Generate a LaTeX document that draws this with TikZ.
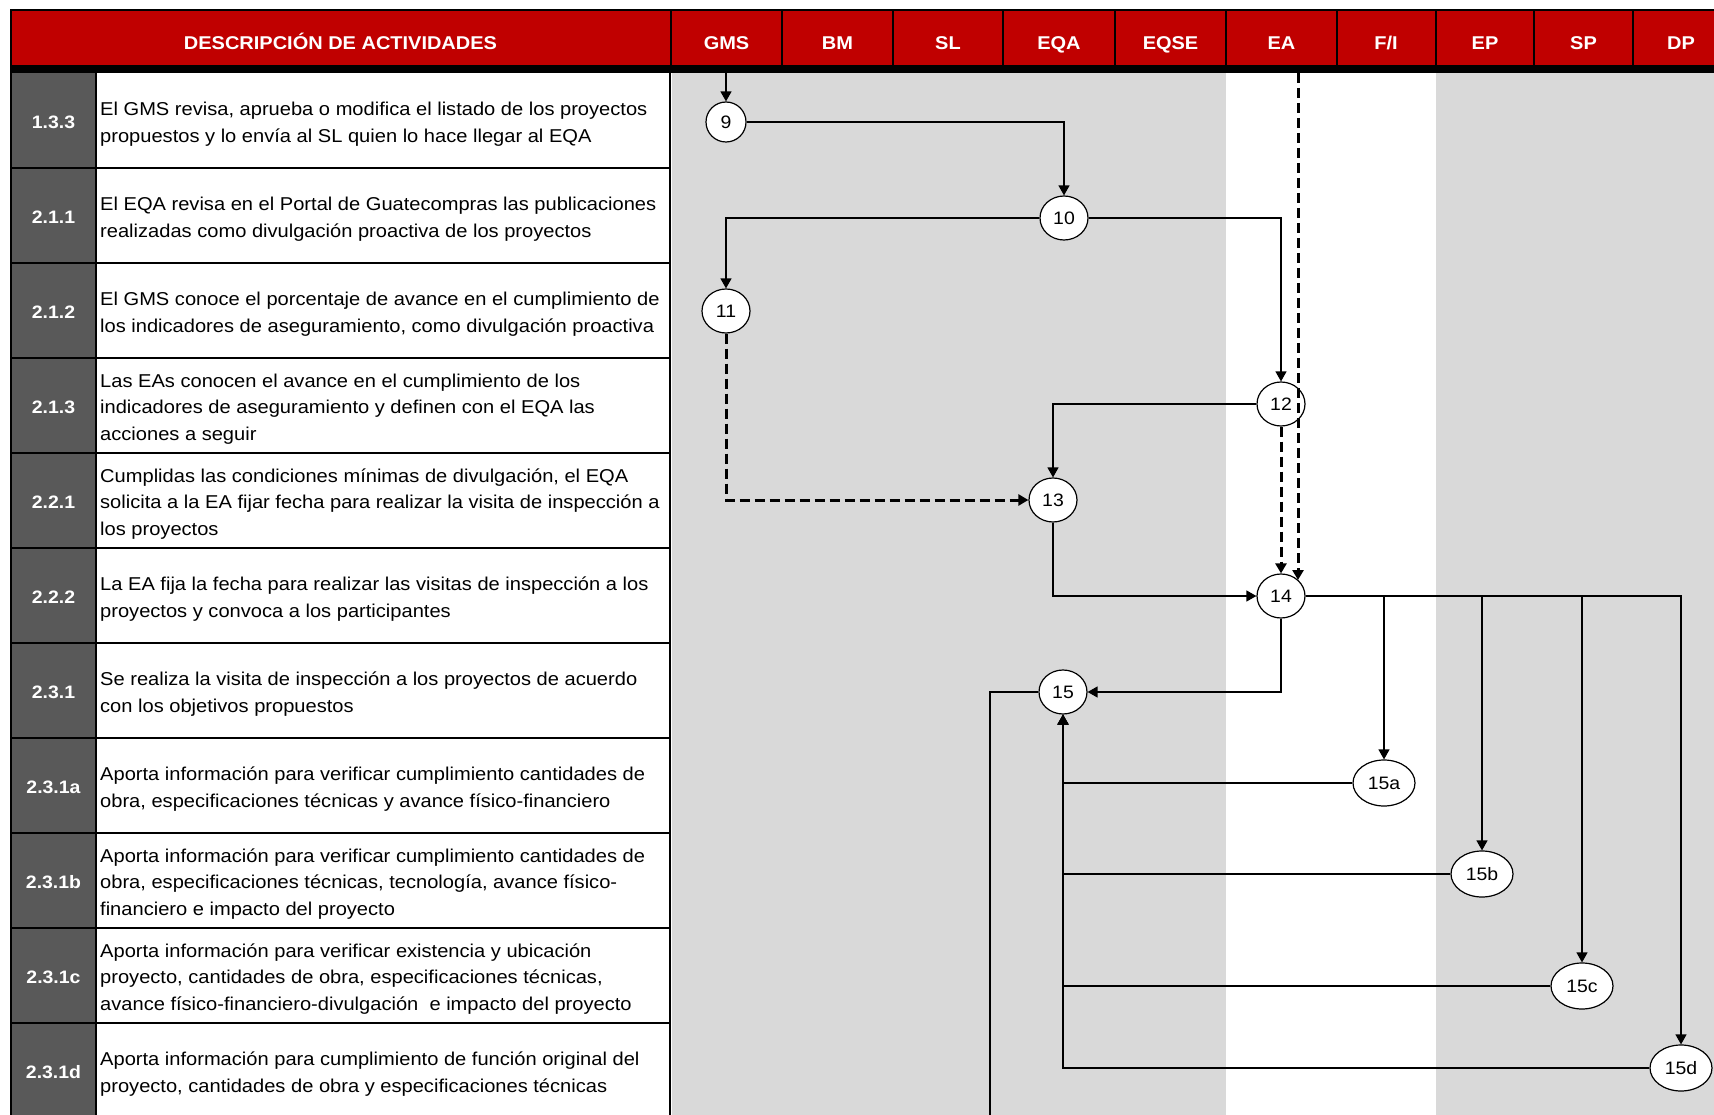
\documentclass[tikz,border=0pt]{standalone}
\usepackage{fontspec}
\setmainfont{Liberation Sans}[FakeStretch=1.08]
\usetikzlibrary{shapes.geometric,arrows.meta}

\definecolor{rojo}{HTML}{C00000}
\definecolor{grisos}{HTML}{595959}
\definecolor{grisc}{HTML}{D9D9D9}

\begin{document}
\begin{tikzpicture}[
				x=1pt, y=-1pt,
				main/.style = {draw, ellipse, fill=white, line width=1.2pt, inner sep=0pt, minimum width=48pt, minimum height=44pt, font=\fontsize{18}{20}\selectfont},
				sub/.style = {main, minimum width=62pt, minimum height=46pt},
				num/.style = {text=white, yshift=-2pt, font=\bfseries\fontsize{18}{20}\selectfont},
				desc/.style = {anchor=west, align=left, inner sep=0pt, yshift=-3.5pt, font=\fontsize{18.6}{26.7}\selectfont},
				head/.style = {anchor=base, text=white, font=\bfseries\fontsize{18.5}{20}\selectfont},
				flow/.style = {line width=1.3pt, -{Triangle[length=10pt,width=11pt]}},
				dflow/.style = {flow, line width=3pt, dash pattern=on 10pt off 5pt}
			]
			\useasboundingbox (0,0) rectangle (1714,1115);
			% fondo de columnas
			\fill[grisc] (672,73) rectangle (1226,1115);
			\fill[grisc] (1436,73) rectangle (1714,1115);
			\fill[grisos] (11,73) rectangle (96,1115);
			\fill[white] (96,73) rectangle (670,1115);
			% encabezado
			\fill[rojo] (11,11) rectangle (1714,65);
			\fill (10,65) rectangle (1714,73);
			\draw[line width=1.5pt] (10,10) -- (1714,10);
			\draw[line width=2pt] (11,10) -- (11,1115);
			\foreach \x in {671,782,893,1003,1115,1226,1337,1436,1534,1633}
				\draw[line width=1.2pt] (\x,11) -- (\x,65);
			\node[head] (hdesc) at (340.5,50) {DESCRIPCIÓN DE ACTIVIDADES};
			\node[head] (hgms) at (726.5,50) {GMS};
			\node[head] (hbm) at (837.5,50) {BM};
			\node[head] (hsl) at (948,50) {SL};
			\node[head] (heqa) at (1059,50) {EQA};
			\node[head] (heqse) at (1170.5,50) {EQSE};
			\node[head] (hea) at (1281.5,50) {EA};
			\node[head] (hfi) at (1386,50) {F/I};
			\node[head] (hep) at (1485,50) {EP};
			\node[head] (hsp) at (1583.5,50) {SP};
			\node[head] (hdp) at (1681,50) {DP};
			% filas
			\foreach \y in {168,263,358,453,548,643,738,833,928,1023}
				\draw[line width=1.5pt] (11,\y) -- (670,\y);
			\draw[line width=1.2pt] (96,73) -- (96,1115);
			\draw[line width=2.5pt] (670,73) -- (670,1115);
			\node[num] (r1) at (53.5,120.5) {1.3.3};
			\node[num] (r2) at (53.5,215.5) {2.1.1};
			\node[num] (r3) at (53.5,310.5) {2.1.2};
			\node[num] (r4) at (53.5,405.5) {2.1.3};
			\node[num] (r5) at (53.5,500.5) {2.2.1};
			\node[num] (r6) at (53.5,595.5) {2.2.2};
			\node[num] (r7) at (53.5,690.5) {2.3.1};
			\node[num] (r8) at (53.5,785.5) {2.3.1a};
			\node[num] (r9) at (53.5,880.5) {2.3.1b};
			\node[num] (r10) at (53.5,975.5) {2.3.1c};
			\node[num] (r11) at (53.5,1070.5) {2.3.1d};
			\node[desc] (d1) at (100,120.5) {El GMS revisa, aprueba o modifica el listado de los proyectos\\propuestos y lo envía al SL quien lo hace llegar al EQA};
			\node[desc] (d2) at (100,215.5) {El EQA revisa en el Portal de Guatecompras las publicaciones\\realizadas como divulgación proactiva de los proyectos};
			\node[desc] (d3) at (100,310.5) {El GMS conoce el porcentaje de avance en el cumplimiento de\\los indicadores de aseguramiento, como divulgación proactiva};
			\node[desc] (d4) at (100,405.5) {Las EAs conocen el avance en el cumplimiento de los\\indicadores de aseguramiento y definen con el EQA las\\acciones a seguir};
			\node[desc] (d5) at (100,500.5) {Cumplidas las condiciones mínimas de divulgación, el EQA\\solicita a la EA fijar fecha para realizar la visita de inspección a\\los proyectos};
			\node[desc] (d6) at (100,595.5) {La EA fija la fecha para realizar las visitas de inspección a los\\proyectos y convoca a los participantes};
			\node[desc] (d7) at (100,690.5) {Se realiza la visita de inspección a los proyectos de acuerdo\\con los objetivos propuestos};
			\node[desc] (d8) at (100,785.5) {Aporta información para verificar cumplimiento cantidades de\\obra, especificaciones técnicas y avance físico-financiero};
			\node[desc] (d9) at (100,880.5) {Aporta información para verificar cumplimiento cantidades de\\obra, especificaciones técnicas, tecnología, avance físico-\\financiero e impacto del proyecto};
			\node[desc] (d10) at (100,975.5) {Aporta información para verificar existencia y ubicación\\proyecto, cantidades de obra, especificaciones técnicas,\\avance físico-financiero-divulgación\ \ e impacto del proyecto};
			\node[desc] (d11) at (100,1070.5) {Aporta información para cumplimiento de función original del\\proyecto, cantidades de obra y especificaciones técnicas};
			% nodos del flujo
			\node[main, minimum width=40pt, minimum height=40pt] (n9) at (726,122) {9};
			\node[main] (n10) at (1064,218) {10};
			\node[main] (n11) at (726,311) {11};
			\node[main] (n12) at (1281,404) {12};
			\node[main] (n13) at (1053,500) {13};
			\node[main] (n14) at (1281,596) {14};
			\node[main] (n15) at (1063,692) {15};
			\node[sub] (n15a) at (1384,783) {15a};
			\node[sub] (n15b) at (1482,874) {15b};
			\node[sub] (n15c) at (1582,986) {15c};
			\node[sub] (n15d) at (1681,1068) {15d};
			\coordinate (top9) at (726,73);
			\coordinate (topea) at (1298,73);
			\coordinate (fin) at (990,1115);
			% conectores
			\draw[flow] (top9) -- (n9);
			\draw[flow] (n9) -| (n10);
			\draw[flow] (n10) -| (n11);
			\draw[flow] (n10) -| (n12);
			\draw[flow] (n12) -| (n13);
			\draw[dflow] (n11) |- (n13);
			\draw[dflow] (n12) -- (n14);
			\draw[dflow] (topea) -- (topea |- n14.north east);
			\draw[flow] (n13) |- (n14);
			\draw[flow] (n14) |- (n15);
			\draw[flow] (n14) -| (n15a);
			\draw[flow] (n14) -| (n15b);
			\draw[flow] (n14) -| (n15c);
			\draw[flow] (n14) -| (n15d);
			\draw[flow] (n15a) -| (n15);
			\draw[flow] (n15b) -| (n15);
			\draw[flow] (n15c) -| (n15);
			\draw[flow] (n15d) -| (n15);
			\draw[line width=1.3pt] (n15) -| (fin);
		\end{tikzpicture}
\end{document}
